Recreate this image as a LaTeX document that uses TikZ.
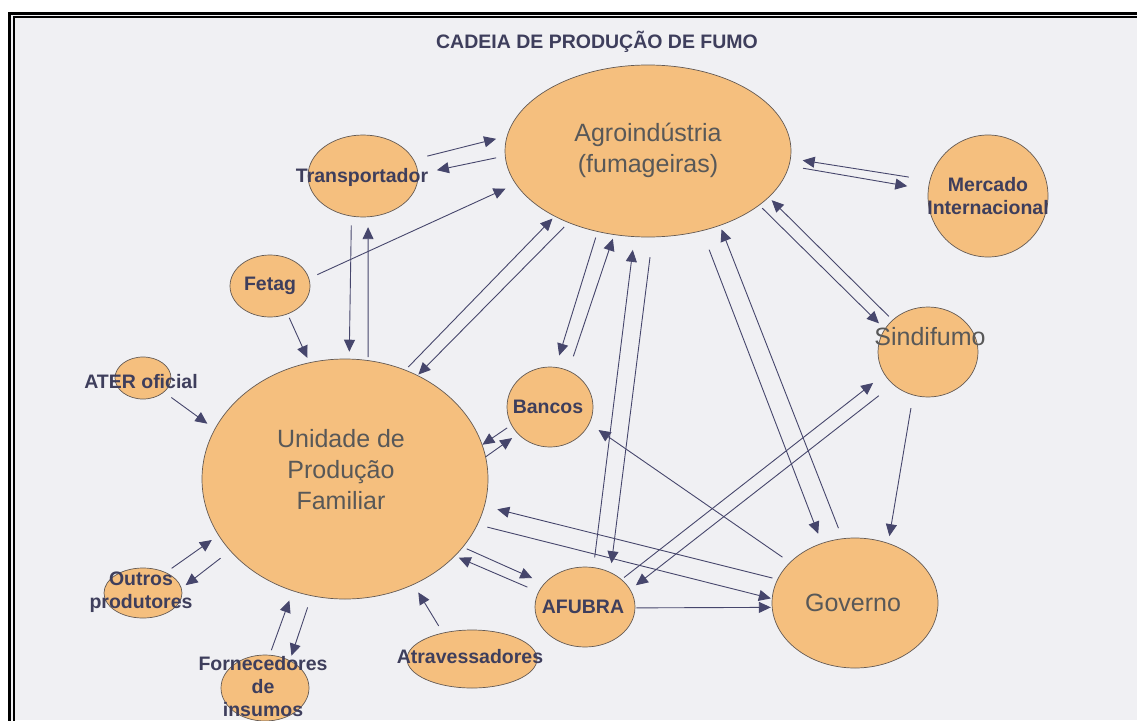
\documentclass[tikz,border=0pt]{standalone}
\usepackage{fontspec}
\setmainfont{Liberation Sans}
\usetikzlibrary{shapes.geometric,arrows.meta}
\definecolor{peach}{RGB}{245,191,126}
\definecolor{rim}{RGB}{100,90,84}
\definecolor{ink}{RGB}{62,62,92}
\definecolor{greytext}{RGB}{88,88,88}
\definecolor{paper}{RGB}{240,240,243}
\definecolor{arrowcol}{RGB}{70,70,108}

\begin{document}
\begin{tikzpicture}[x=1pt,y=-1pt]
	\tikzstyle{enode}=[shape=ellipse,draw=rim,fill=peach,inner sep=0pt,line width=0.7pt];
	\tikzstyle{bnode}=[align=center,text=ink,font=\fontsize{19.5}{23}\selectfont\bfseries];
	\tikzstyle{rnode}=[align=center,text=greytext,font=\fontsize{25}{31}\selectfont];
	\tikzstyle{arr}=[-{Triangle[length=12pt,width=11pt]},draw=arrowcol,line width=0.9pt];

	% page and double frame
	\useasboundingbox (0,0) rectangle (1137,720);
	\fill[white] (0,0) rectangle (1137,720);
	\fill[paper] (9,14) rectangle (1137,720);
	\draw[line width=3pt] (9.5,725) -- (9.5,13.5) -- (1142,13.5);
	\draw[line width=2pt] (13.5,725) -- (13.5,17) -- (1142,17);

	\node[font=\fontsize{19.5}{23}\selectfont\bfseries,text=ink] (title) at (597,42) {CADEIA DE PRODUÇÃO DE FUMO};

	% actors
	\node[enode,minimum width=286pt,minimum height=172pt] (agro) at (648,151) {};
	\node[enode,minimum width=110pt,minimum height=82pt] (trans) at (363,176) {};
	\node[enode,minimum width=120pt,minimum height=122pt] (merc) at (988,196) {};
	\node[enode,minimum width=80pt,minimum height=62pt] (fetag) at (270,286) {};
	\node[enode,minimum width=100pt,minimum height=90pt] (sind) at (928,352) {};
	\node[enode,minimum width=56pt,minimum height=42pt] (ater) at (143,378) {};
	\node[enode,minimum width=286pt,minimum height=240pt] (upf) at (345,479) {};
	\node[enode,minimum width=86pt,minimum height=80pt] (banc) at (550,407) {};
	\node[enode,minimum width=78pt,minimum height=50pt] (outr) at (143,593) {};
	\node[enode,minimum width=88pt,minimum height=66pt] (forn) at (265,688) {};
	\node[enode,minimum width=130pt,minimum height=58pt] (atrav) at (472,659) {};
	\node[enode,minimum width=100pt,minimum height=80pt] (afub) at (585,607) {};
	\node[enode,minimum width=166pt,minimum height=130pt] (gov) at (855,603) {};

	% labels
	\node[rnode] (lagro) at (648,150) {Agroindústria\\(fumageiras)};
	\node[bnode] (ltrans) at (362,177) {Transportador};
	\node[bnode] (lmerc) at (988,196) {Mercado\\Internacional};
	\node[bnode] (lfetag) at (270,286) {Fetag};
	\node[rnode] (lsind) at (930,337) {Sindifumo};
	\node[bnode] (later) at (141,382) {ATER oficial};
	\node[rnode] (lupf) at (341,470) {Unidade de\\Produção\\Familiar};
	\node[bnode] (lbanc) at (548,407) {Bancos};
	\node[bnode] (loutr) at (141,592) {Outros\\produtores};
	\node[bnode] (lforn) at (263,687) {Fornecedores\\de\\insumos};
	\node[bnode] (latrav) at (470,657) {Atravessadores};
	\node[bnode] (lafub) at (583,607) {AFUBRA};
	\node[rnode] (lgov) at (853,603) {Governo};

	% flows
	\draw[arr,shorten <=14pt,shorten >=11pt] (trans.18) -- (agro.174);
	\draw[arr,shorten <=9pt,shorten >=19pt] (agro.182) -- (trans.2);
	\draw[arr,shorten <=9pt,shorten >=11pt] (fetag.11) -- (agro.194);
	\draw[arr,shorten <=9pt,shorten >=7pt] (trans.254) -- (upf.88);
	\draw[arr,shorten <=3pt,shorten >=10pt] (upf.79) -- (trans.-83);
	\draw[arr,shorten <=4pt,shorten >=5pt] (fetag.-58) -- (upf.107);
	\draw[arr,shorten <=4pt,shorten >=3pt] (upf.61) -- (agro.215);
	\draw[arr,shorten <=6pt,shorten >=1pt] (agro.222) -- (upf.55);
	\draw[arr,shorten <=6pt,shorten >=12pt] (agro.238) -- (banc.82);
	\draw[arr,shorten <=15pt,shorten >=4pt] (banc.63) -- (agro.248);
	\draw[arr,shorten <=10pt,shorten >=13pt] (afub.78) -- (agro.261);
	\draw[arr,shorten <=20pt,shorten >=9pt] (agro.-87) -- (afub.54);
	\draw[arr,shorten <=20pt,shorten >=10pt] (agro.-56) -- (gov.119);
	\draw[arr,shorten <=11pt,shorten >=4pt] (gov.101) -- (agro.-46);
	\draw[arr,shorten <=4pt,shorten >=8pt] (agro.-26) -- (sind.152);
	\draw[arr,shorten <=5pt,shorten >=4pt] (sind.138) -- (agro.-21);
	\draw[arr,shorten <=21pt,shorten >=12pt] (merc.165) -- (agro.-3);
	\draw[arr,shorten <=14pt,shorten >=21pt] (agro.-6) -- (merc.174);
	\draw[arr,shorten <=13pt,shorten >=7pt] (sind.251) -- (gov.61);
	\draw[arr,shorten <=3pt,shorten >=14pt] (afub.37) -- (sind.207);
	\draw[arr,shorten <=18pt,shorten >=7pt] (sind.223) -- (afub.21);
	\draw[arr,shorten <=9pt,shorten >=11pt] (gov.148) -- (banc.-23);
	\draw[arr,shorten <=5pt,shorten >=13pt] (gov.163) -- (upf.-11);
	\draw[arr,shorten <=10pt,shorten >=1pt] (upf.-19) -- (gov.177);
	\draw[arr,shorten <=4pt,shorten >=13pt] (upf.-30) -- (afub.150);
	\draw[arr,shorten <=12pt,shorten >=4pt] (afub.162) -- (upf.-35);
	\draw[arr,shorten <=1pt,shorten >=1pt] (afub.-1) -- (gov.183);
	\draw[arr,shorten <=5pt] (banc.205) -- (upf.14);
	\draw[arr,shorten >=7pt] (upf.9) -- (banc.220);
	\draw[arr,shorten <=9pt,shorten >=9pt] (ater.-34) -- (upf.159);
	\draw[arr,shorten <=7pt,shorten >=8pt] (outr.42) -- (upf.204);
	\draw[arr,shorten <=12pt,shorten >=5pt] (upf.212) -- (outr.7);
	\draw[arr,shorten <=5pt,shorten >=10pt] (forn.82) -- (upf.245);
	\draw[arr,shorten <=12pt,shorten >=5pt] (upf.254) -- (forn.48);
	\draw[arr,shorten <=8pt,shorten >=9pt] (atrav.138) -- (upf.-57);
\end{tikzpicture}
\end{document}
